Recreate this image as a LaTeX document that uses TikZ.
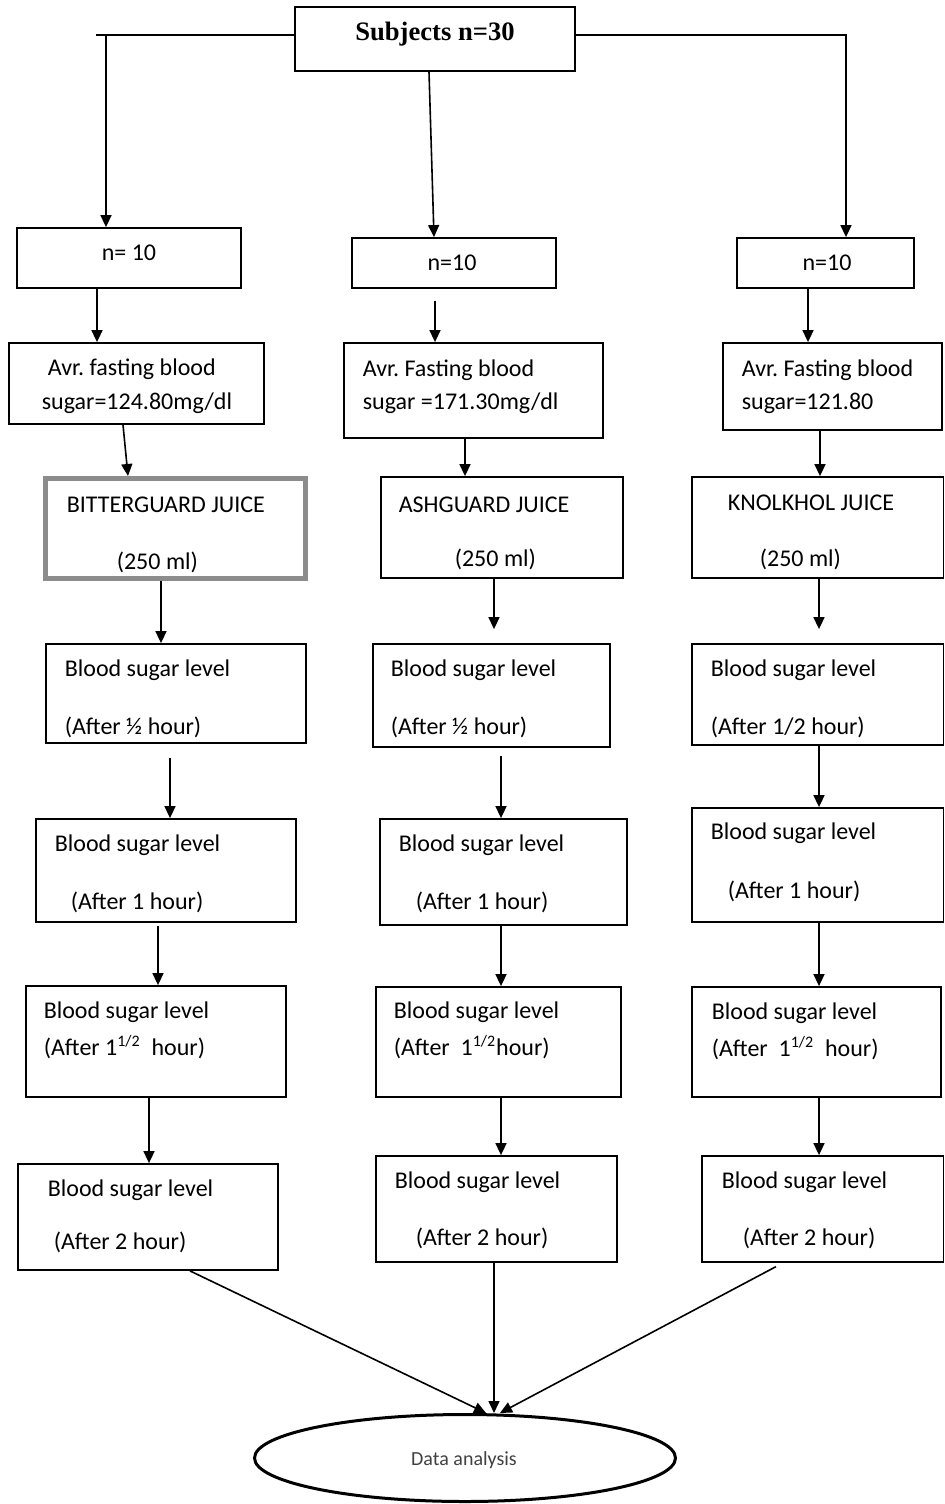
\documentclass[tikz,border=0pt]{standalone}
\usepackage{fontspec}
\setmainfont{Carlito}
\newfontfamily\titlefont{Liberation Serif}
\usetikzlibrary{arrows.meta,fit,shapes.geometric}

\begin{document}
\begin{tikzpicture}[x=0.5pt,y=-0.5pt,>={Triangle[length=6pt,width=5.5pt]},
            line width=0.8pt,font=\fontsize{12}{14}\selectfont]
        \tikzstyle{box}=[draw,line width=0.9pt,inner sep=0pt]
        \tikzstyle{juicebox}=[draw=black!45,line width=2.5pt,inner sep=0pt]
        \tikzstyle{txt}=[anchor=west,inner sep=0pt]

        \useasboundingbox (0,0) rectangle (944,1504);

        % top box
        \node[box, fit={(295,7) (575,71)}] (S) {};
        \node[inner sep=0pt] (St) at (435,34) {\titlefont\bfseries\fontsize{13.3}{15}\selectfont Subjects n=30};
        \coordinate (lt) at (96,35);
        \coordinate (lc) at (106,35);
        \coordinate (rc) at (846,35);

        % first column
        \node[box, fit={(17,228) (241,288)}] (n1) {};
        \node (n1t) at (129,253) {n= 10};
        \node[box, fit={(9,343) (264,424)}] (a1) {};
        \node[txt] (a1t) at (47,369) {Avr.\ fasting blood};
        \node[txt] (a1u) at (41,403) {sugar=124.80mg/dl};
        \node[juicebox, fit={(45.5,478.5) (305.5,578.5)}] (j1) {};
        \node[txt] (j1t) at (66,505) {BITTERGUARD JUICE};
        \node[txt] (j1u) at (116,562) {(250 ml)};
        \node[box, fit={(46,644) (306,743)}] (b1) {};
        \node[txt] (b1t) at (64,670) {Blood sugar level};
        \node[txt] (b1u) at (64,727) {(After ½ hour)};
        \node[box, fit={(36,819) (296,922)}] (c1) {};
        \node[txt] (c1t) at (54,845) {Blood sugar level};
        \node[txt] (c1u) at (70,902) {(After 1 hour)};
        \node[box, fit={(26,986) (286,1097)}] (d1) {};
        \node[txt] (d1t) at (43,1012) {Blood sugar level};
        \node[txt] (d1u) at (43,1047) {(After 1\textsuperscript{1/2}\ \ hour)};
        \node[box, fit={(18,1164) (278,1270)}] (e1) {};
        \node[txt] (e1t) at (47,1190) {Blood sugar level};
        \node[txt] (e1u) at (53,1242) {(After 2 hour)};

        % second column
        \node[box, fit={(352,238) (556,288)}] (n2) {};
        \node (n2t) at (452,263) {n=10};
        \node[box, fit={(344,343) (603,438)}] (a2) {};
        \node[txt] (a2t) at (362,370) {Avr.\ Fasting blood};
        \node[txt] (a2u) at (362,403) {sugar =171.30mg/dl};
        \node[box, fit={(381,477) (623,578)}] (j2) {};
        \node[txt] (j2t) at (398,505) {ASHGUARD JUICE};
        \node[txt] (j2u) at (454,559) {(250 ml)};
        \node[box, fit={(373,644) (610,747)}] (b2) {};
        \node[txt] (b2t) at (390,670) {Blood sugar level};
        \node[txt] (b2u) at (390,727) {(After ½ hour)};
        \node[box, fit={(380,819) (627,925)}] (c2) {};
        \node[txt] (c2t) at (398,845) {Blood sugar level};
        \node[txt] (c2u) at (415,902) {(After 1 hour)};
        \node[box, fit={(376,987) (621,1097)}] (d2) {};
        \node[txt] (d2t) at (393,1012) {Blood sugar level};
        \node[txt] (d2u) at (393,1047) {(After\ \ 1\textsuperscript{1/2}hour)};
        \node[box, fit={(376,1156) (617,1262)}] (e2) {};
        \node[txt] (e2t) at (394,1182) {Blood sugar level};
        \node[txt] (e2u) at (415,1238) {(After 2 hour)};

        % third column
        \node[box, fit={(737,238) (914,288)}] (n3) {};
        \node (n3t) at (827,263) {n=10};
        \node[box, fit={(723,343) (942,430)}] (a3) {};
        \node[txt] (a3t) at (741,370) {Avr.\ Fasting blood};
        \node[txt] (a3u) at (741,403) {sugar=121.80};
        \node[box, fit={(692,477) (943.5,578)}] (j3) {};
        \node[txt] (j3t) at (727,503) {KNOLKHOL JUICE};
        \node[txt] (j3u) at (759,559) {(250 ml)};
        \node[box, fit={(692,644) (943.5,745)}] (b3) {};
        \node[txt] (b3t) at (710,670) {Blood sugar level};
        \node[txt] (b3u) at (710,727) {(After 1/2 hour)};
        \node[box, fit={(692,808) (943.5,922)}] (c3) {};
        \node[txt] (c3t) at (710,833) {Blood sugar level};
        \node[txt] (c3u) at (727,891) {(After 1 hour)};
        \node[box, fit={(692,987) (941,1097)}] (d3) {};
        \node[txt] (d3t) at (711,1013) {Blood sugar level};
        \node[txt] (d3u) at (711,1048) {(After\ \ 1\textsuperscript{1/2}\ \ hour)};
        \node[box, fit={(702,1156) (943.5,1262)}] (e3) {};
        \node[txt] (e3t) at (721,1182) {Blood sugar level};
        \node[txt] (e3u) at (742,1238) {(After 2 hour)};

        % data analysis
        \node[ellipse, draw, line width=1.5pt, inner sep=0pt, minimum width=210.5pt,
            minimum height=43.5pt] (da) at (465,1458) {};
        \node[text=black!75, font=\fontsize{10}{12}\selectfont] (dat) at (464,1460) {Data analysis};

        % from the top box
        \draw (S.west |- lt) -- (lt);
        \draw[->] (lc) -- (n1.north -| lc);
        \draw[->] (S.south -| 429,0) -- (n2.north -| 434,0);
        \draw[->] (S.east |- rc) -- (rc) -- (n3.north -| rc);

        % first column
        \draw[->] (n1.south -| 97,0) -- (a1.north -| 97,0);
        \draw[->] (a1.south -| 123,0) -- (j1.north -| 128,0);
        \draw[->] (j1.south -| 161,0) -- (b1.north -| 161,0);
        \draw[->, shorten <=7pt] (b1.south -| 170,0) -- (c1.north -| 170,0);
        \draw[->, shorten <=1.5pt] (c1.south -| 158,0) -- (d1.north -| 158,0);
        \draw[->] (d1.south -| 149,0) -- (e1.north -| 149,0);
        \draw[->] (e1.south -| 190,0) -- (da.north -| 486,0);

        % second column
        \draw[->, shorten <=6pt] (n2.south -| 435,0) -- (a2.north -| 435,0);
        \draw[->] (a2.south -| 465,0) -- (j2.north -| 465,0);
        \draw[->, shorten >=7pt] (j2.south -| 494,0) -- (b2.north -| 494,0);
        \draw[->, shorten <=4pt] (b2.south -| 501,0) -- (c2.north -| 501,0);
        \draw[->] (c2.south -| 501,0) -- (d2.north -| 501,0);
        \draw[->] (d2.south -| 501,0) -- (e2.north -| 501,0);
        \draw[->] (e2.south -| 494,0) -- (da.north -| 494,0);

        % third column
        \draw[->] (n3.south -| 808,0) -- (a3.north -| 808,0);
        \draw[->] (a3.south -| 820,0) -- (j3.north -| 820,0);
        \draw[->, shorten >=7pt] (j3.south -| 819,0) -- (b3.north -| 819,0);
        \draw[->] (b3.south -| 819,0) -- (c3.north -| 819,0);
        \draw[->] (c3.south -| 819,0) -- (d3.north -| 819,0);
        \draw[->] (d3.south -| 819,0) -- (e3.north -| 819,0);
        \draw[->, shorten <=4pt] (e3.south -| 783,0) -- (da.north -| 500,0);
    \end{tikzpicture}
\end{document}
